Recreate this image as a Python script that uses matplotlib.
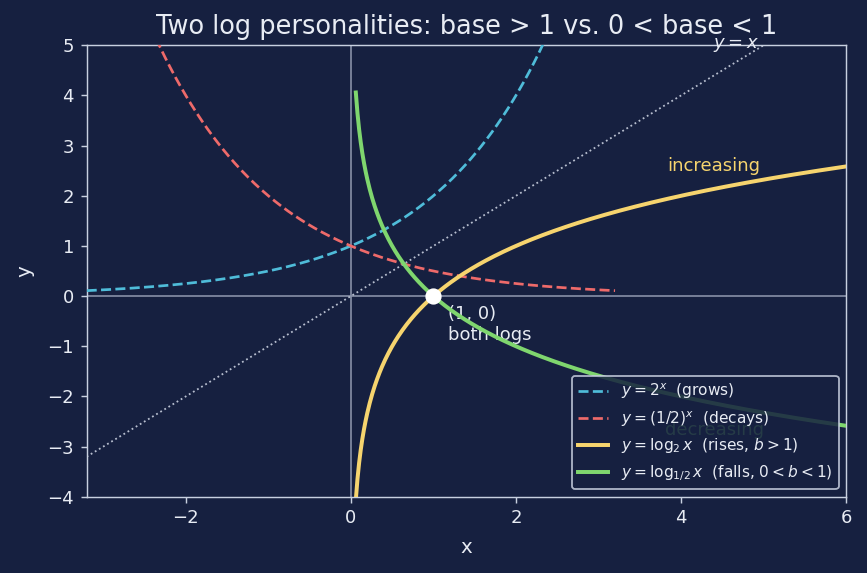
import numpy as np
import matplotlib
matplotlib.use("Agg")
import matplotlib.pyplot as plt

# data
x_exp = np.linspace(-3.2, 3.2, 400)
x_log = np.linspace(0.06, 6, 600)
x_id = np.array([-3.2, 5.0])
anchor_x = [1.0]
anchor_y = [0.0]

BG = "#162040"
FG = "#e8ecf4"
C_BLUE = "#4fbcd9"
C_RED = "#ee6a6a"
C_YELLOW = "#f6d46e"
C_GREEN = "#7fd66e"

DPI = 130
plt.rcParams["font.family"] = ["DejaVu Sans"]
fig, ax = plt.subplots(figsize=(867 / DPI, 573 / DPI), dpi=DPI)
fig.patch.set_facecolor(BG)
ax.set_facecolor(BG)

ax.axhline(0, color="#8a93aa", lw=0.9, zorder=1)
ax.axvline(0, color="#8a93aa", lw=0.9, zorder=1)

ax.plot(x_id, x_id, ":", color="#b8bfd0", lw=1.0, zorder=2)
ax.plot(x_exp, 2.0 ** x_exp, "--", color=C_BLUE, lw=1.5, label=r"$y=2^x$  (grows)", zorder=3)
ax.plot(x_exp, 0.5 ** x_exp, "--", color=C_RED, lw=1.5, label=r"$y=(1/2)^x$  (decays)", zorder=3)
ax.plot(x_log, np.log2(x_log), color=C_YELLOW, lw=2.2, label=r"$y=\log_2 x$  (rises, $b>1$)", zorder=4)
ax.plot(x_log, np.log(x_log) / np.log(0.5), color=C_GREEN, lw=2.2,
        label=r"$y=\log_{1/2} x$  (falls, $0<b<1$)", zorder=4)

ax.plot(anchor_x, anchor_y, "o", color="white", ms=8, zorder=6)
ax.annotate("(1, 0)\nboth logs", (1, 0), xytext=(8, -5), textcoords="offset points",
            color=FG, fontsize=10, va="top", ha="left")

ax.text(4.67, 5.0, r"$y=x$", color=FG, fontsize=10, ha="center", va="center")
ax.text(4.4, 2.6, "increasing", color=C_YELLOW, fontsize=10, ha="center", va="center")
ax.text(4.4, -2.67, "decreasing", color=C_GREEN, fontsize=10, ha="center", va="center")

ax.set_xlim(-3.2, 6)
ax.set_ylim(-4, 5)
ax.set_title("Two log personalities: base > 1 vs. 0 < base < 1", color=FG, fontsize=14.2)
ax.set_xlabel("x", color=FG, fontsize=11, labelpad=6)
ax.set_ylabel("y", color=FG, fontsize=11, labelpad=7)
ax.tick_params(colors="#c8d0e0", labelcolor=FG, labelsize=10)
for s in ax.spines.values():
    s.set_color("#c8d0e0")

leg = ax.legend(loc="lower right", fontsize=8.5, facecolor=BG, edgecolor="#c8d0e0",
                framealpha=0.85, labelcolor=FG)
leg.set_zorder(5)

fig.subplots_adjust(left=0.1, right=0.976, top=0.921, bottom=0.133)
fig.savefig("out.png", dpi=DPI, facecolor=BG)
